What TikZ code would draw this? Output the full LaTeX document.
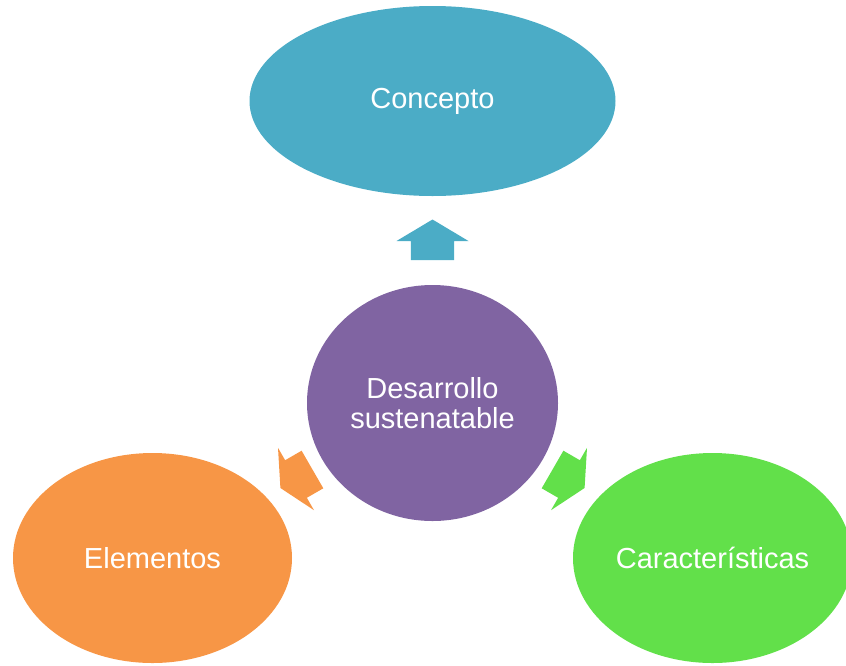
\documentclass[tikz,border=0pt]{standalone}
\usepackage{fontspec}
\setmainfont{Liberation Sans}
\usetikzlibrary{shapes.geometric}
\definecolor{cblue}{HTML}{4BACC6}
\definecolor{cpurple}{HTML}{8064A2}
\definecolor{corange}{HTML}{F79646}
\definecolor{cgreen}{HTML}{62E04A}
\tikzset{
  bubble/.style={ellipse, inner sep=0pt, text=white, align=center,
    font=\fontsize{29}{30}\selectfont},
  arrowshape/.pic={
    \fill[pic actions] (#1,0) -- (0,36) -- (0,21.7) -- (-19,21.7) -- (-19,-21.7) -- (0,-21.7) -- (0,-36) -- cycle;
  }
}
\begin{document}
\begin{tikzpicture}[x=1pt,y=-1pt]
\useasboundingbox (0,0) rectangle (846,665);
\clip (0,0) rectangle (846,665);
\node[bubble, fill=cblue, minimum width=366pt, minimum height=190pt] (concepto) at (432.5,101) {Concepto};
\node[bubble, fill=cpurple, minimum width=251pt, minimum height=236pt] (centro) at (432.5,403) {Desarrollo\\sustenatable};
\node[bubble, fill=corange, minimum width=279pt, minimum height=210pt] (elementos) at (152.5,558) {Elementos};
\node[bubble, fill=cgreen, minimum width=279pt, minimum height=210pt] (caracteristicas) at (712.5,558) {Características};
\pic[fill=cblue, shift={(432.5,241)}, rotate=90] {arrowshape=21.5};
\pic[fill=cgreen, shift={(569,479)}, rotate=-30] {arrowshape=18};
\pic[fill=corange, shift={(296,479)}, rotate=-150] {arrowshape=18};
\end{tikzpicture}
\end{document}
